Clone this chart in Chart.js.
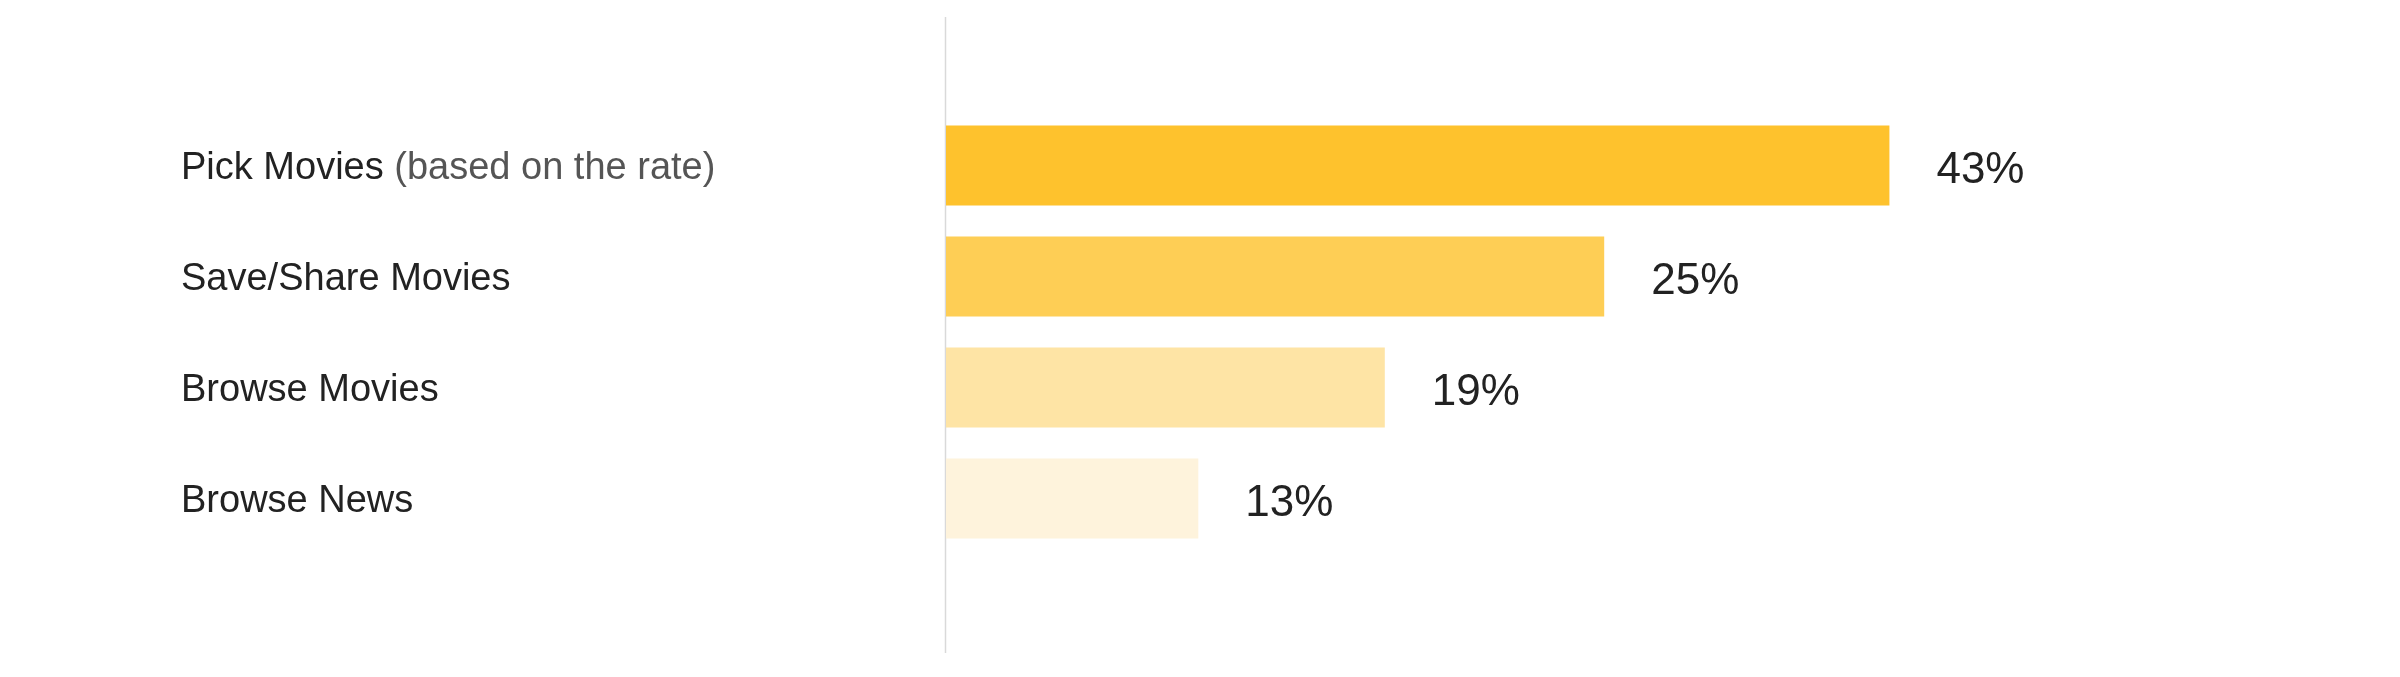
<!DOCTYPE html>
<html lang="en">
<head>
    <meta charset="UTF-8">
    <title>Feature usage</title>
    <script src="https://cdn.jsdelivr.net/npm/chart.js"></script>
    <style>
        html, body { margin: 0; padding: 0; background: #fff; }
        #wrap { width: 2400px; height: 677px; }
    </style>
</head>
<body>
<div id="wrap"><canvas id="usageChart"></canvas></div>
<script>
    // Data
    const categories = ['Pick Movies', 'Save/Share Movies', 'Browse Movies', 'Browse News'];
    const categoryNotes = ['(based on the rate)', '', '', ''];
    // bar lengths as drawn (they are not drawn to the printed percentages)
    const barValues = [43, 30, 20, 11.5];
    const shareLabels = ['43%', '25%', '19%', '13%'];
    const barColors = ['#FEC22D', '#FECE55', '#FEE4A5', '#FEF3DC'];

    const FONT = '"Liberation Sans", Arial, Helvetica, sans-serif';

    // left axis line, category labels and value labels
    const decorations = {
        id: 'decorations',
        beforeDatasetsDraw(chart) {
            const ctx = chart.ctx;
            const area = chart.chartArea;
            ctx.save();
            ctx.strokeStyle = '#d9d9d9';
            ctx.lineWidth = 1.5;
            ctx.beginPath();
            ctx.moveTo(area.left - 0.5, 17);
            ctx.lineTo(area.left - 0.5, 653);
            ctx.stroke();
            ctx.restore();
        },
        afterDatasetsDraw(chart) {
            const ctx = chart.ctx;
            const yScale = chart.scales.y;
            const meta = chart.getDatasetMeta(0);
            ctx.save();

            // category labels, left aligned
            ctx.font = '38px ' + FONT;
            ctx.textBaseline = 'middle';
            ctx.textAlign = 'left';
            categories.forEach((name, i) => {
                const y = yScale.getPixelForValue(i) + 3;
                let x = 181;
                ctx.fillStyle = '#222';
                ctx.fillText(name, x, y);
                if (categoryNotes[i]) {
                    x += ctx.measureText(name + ' ').width;
                    ctx.fillStyle = '#555';
                    ctx.fillText(categoryNotes[i], x, y);
                }
            });

            // value labels after each bar
            ctx.font = '44px ' + FONT;
            ctx.fillStyle = '#222';
            meta.data.forEach((bar, i) => {
                ctx.fillText(shareLabels[i], bar.x + 47, bar.y + 5);
            });
            ctx.restore();
        }
    };

    new Chart(document.getElementById('usageChart'), {
        type: 'bar',
        data: {
            labels: categories,
            datasets: [{
                data: barValues,
                backgroundColor: barColors,
                borderWidth: 0,
                barPercentage: 0.72,
                categoryPercentage: 1
            }]
        },
        options: {
            indexAxis: 'y',
            responsive: true,
            maintainAspectRatio: false,
            animation: false,
            layout: {
                padding: { left: 946, right: 357, top: 110, bottom: 123 }
            },
            plugins: {
                legend: { display: false },
                tooltip: { enabled: false }
            },
            scales: {
                x: {
                    display: false,
                    min: 0,
                    max: 50
                },
                y: {
                    display: false
                }
            }
        },
        plugins: [decorations]
    });
</script>
</body>
</html>
